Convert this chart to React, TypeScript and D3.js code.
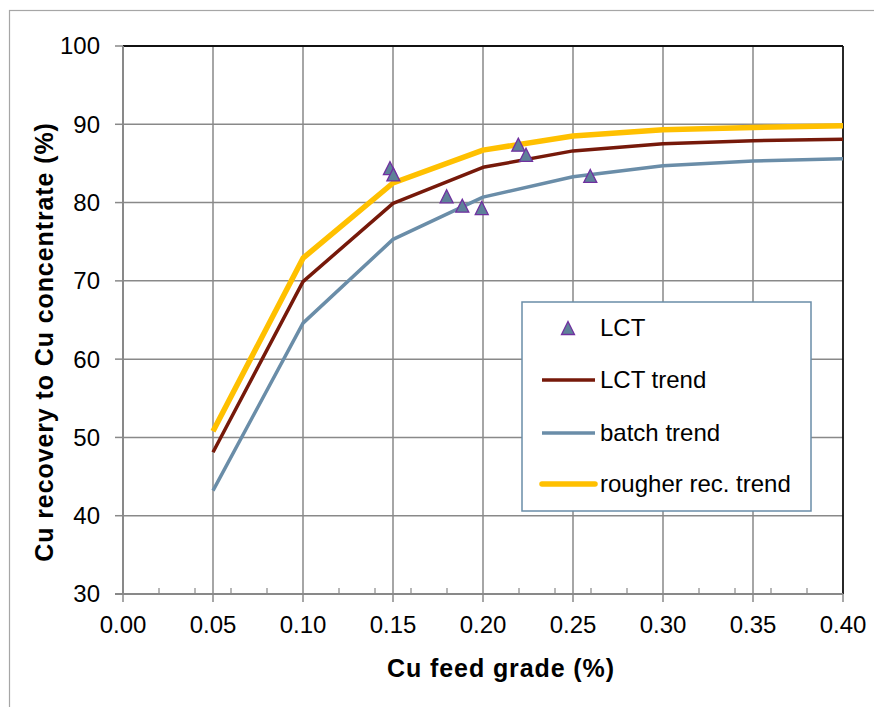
import React from "react";
import * as d3 from "d3";

const grades = [0.05, 0.1, 0.15, 0.2, 0.25, 0.3, 0.35, 0.4];
const lctTrend = [48.1, 69.9, 79.9, 84.5, 86.6, 87.5, 87.9, 88.1];
const batchTrend = [43.2, 64.6, 75.3, 80.7, 83.3, 84.7, 85.3, 85.6];
const rougherTrend = [50.8, 72.9, 82.5, 86.7, 88.5, 89.3, 89.6, 89.8];

const lctX = [0.1483, 0.1502, 0.1798, 0.1885, 0.1993, 0.2196, 0.2239, 0.2596];
const lctY = [84.4, 83.6, 80.8, 79.6, 79.3, 87.4, 86.1, 83.4];

const xTicks = [0, 0.05, 0.1, 0.15, 0.2, 0.25, 0.3, 0.35, 0.4];
const xMinor = [0.02, 0.04, 0.06, 0.08, 0.12, 0.14, 0.16, 0.18, 0.22, 0.24, 0.26, 0.28, 0.32, 0.34, 0.36, 0.38];
const yTicks = [30, 40, 50, 60, 70, 80, 90, 100];

const legendItems = ["LCT", "LCT trend", "batch trend", "rougher rec. trend"];

const FONT = "'Liberation Sans', Arial, sans-serif";
const C_RED = "#76190a";
const C_BLUE = "#6a8da8";
const C_YEL = "#ffc000";
const C_TRI = "#5e8199";
const C_TRI_S = "#7030a0";

export default function App() {
  const L = 123, R = 843, T = 46, B = 594;
  const x = d3.scaleLinear().domain([0, 0.4]).range([L, R]);
  const y = d3.scaleLinear().domain([30, 100]).range([B, T]);
  const line = d3
    .line<[number, number]>()
    .x((d) => x(d[0]))
    .y((d) => y(d[1]));
  const mk = (vals: number[]) => grades.map((g, i) => [g, vals[i]] as [number, number]);
  const tri = (cx: number, cy: number, s: number) =>
    `M${cx},${cy - s / 2}L${cx + s / 2},${cy + s / 2}L${cx - s / 2},${cy + s / 2}Z`;

  const grid = "#898989";
  const legX = 522, legY = 302, legW = 289, legH = 209;
  const rows = [328, 380, 433, 484];

  return (
    <svg
      width={874}
      height={707}
      style={{ position: "absolute", left: 0, top: 0, background: "#fff" }}
      fontFamily={FONT}
    >
      <rect x={0} y={0} width={874} height={707} fill="#fff" />
      <rect x={9.5} y={10.5} width={900} height={800} fill="none" stroke="#a6a6a6" strokeWidth={1.2} />
      {/* gridlines */}
      {xTicks.slice(1, -1).map((t) => (
        <line key={"gx" + t} x1={x(t)} x2={x(t)} y1={T} y2={B} stroke={grid} strokeWidth={1.5} />
      ))}
      {yTicks.slice(1, -1).map((t) => (
        <line key={"gy" + t} x1={L} x2={R} y1={y(t)} y2={y(t)} stroke={grid} strokeWidth={1.5} />
      ))}
      {/* plot border top/right */}
      <line x1={L} x2={R} y1={T} y2={T} stroke="#111" strokeWidth={1.8} />
      <line x1={R} x2={R} y1={T} y2={B} stroke="#111" strokeWidth={1.8} />
      {/* axes */}
      <line x1={L} x2={L} y1={T} y2={B} stroke={grid} strokeWidth={2} />
      <line x1={115} x2={R} y1={B} y2={B} stroke={grid} strokeWidth={2} />
      {yTicks.map((t) => (
        <g key={"yt" + t}>
          <line x1={115} x2={L} y1={y(t)} y2={y(t)} stroke={grid} strokeWidth={1.5} />
          <text x={100} y={y(t)} dy="0.35em" textAnchor="end" fontSize={24} fill="#000">
            {t}
          </text>
        </g>
      ))}
      {xTicks.map((t) => (
        <g key={"xt" + t}>
          <line x1={x(t)} x2={x(t)} y1={B} y2={B + 8} stroke={grid} strokeWidth={1.5} />
          <text x={x(t)} y={633} textAnchor="middle" fontSize={24} fill="#000">
            {t.toFixed(2)}
          </text>
        </g>
      ))}
      {xMinor.map((t) => (
        <line key={"xm" + t} x1={x(t)} x2={x(t)} y1={B - 6} y2={B} stroke={grid} strokeWidth={1.2} />
      ))}
      {/* lines */}
      <path d={line(mk(batchTrend)) || ""} fill="none" stroke={C_BLUE} strokeWidth={3.5} strokeLinejoin="round" />
      <path d={line(mk(lctTrend)) || ""} fill="none" stroke={C_RED} strokeWidth={3.5} strokeLinejoin="round" />
      <path d={line(mk(rougherTrend)) || ""} fill="none" stroke={C_YEL} strokeWidth={5.5} strokeLinejoin="round" />
      {/* points */}
      {lctX.map((v, i) => (
        <path key={"p" + i} d={tri(x(v), y(lctY[i]), 13)} fill={C_TRI} stroke={C_TRI_S} strokeWidth={1.3} />
      ))}
      {/* axis titles */}
      <text x={501} y={676.5} textAnchor="middle" fontSize={25} fontWeight="bold" letterSpacing={0.9} fill="#000">
        Cu feed grade (%)
      </text>
      <text
        transform={`translate(52.5,342) rotate(-90)`}
        textAnchor="middle"
        fontSize={25}
        fontWeight="bold"
        letterSpacing={0.9}
        fill="#000"
      >
        Cu recovery to Cu concentrate (%)
      </text>
      {/* legend */}
      <rect x={legX} y={legY} width={legW} height={legH} fill="#fff" stroke={C_BLUE} strokeWidth={1.5} />
      <path d={tri(568, rows[0], 13)} fill={C_TRI} stroke={C_TRI_S} strokeWidth={1.3} />
      <line x1={542} x2={595} y1={rows[1]} y2={rows[1]} stroke={C_RED} strokeWidth={3.5} />
      <line x1={542} x2={595} y1={rows[2]} y2={rows[2]} stroke={C_BLUE} strokeWidth={3.5} />
      <line x1={542} x2={595} y1={rows[3]} y2={rows[3]} stroke={C_YEL} strokeWidth={5.5} strokeLinecap="round" />
      {legendItems.map((s, i) => (
        <text key={s} x={600} y={rows[i]} dy="0.35em" fontSize={24} fill="#000">
          {s}
        </text>
      ))}
    </svg>
  );
}
